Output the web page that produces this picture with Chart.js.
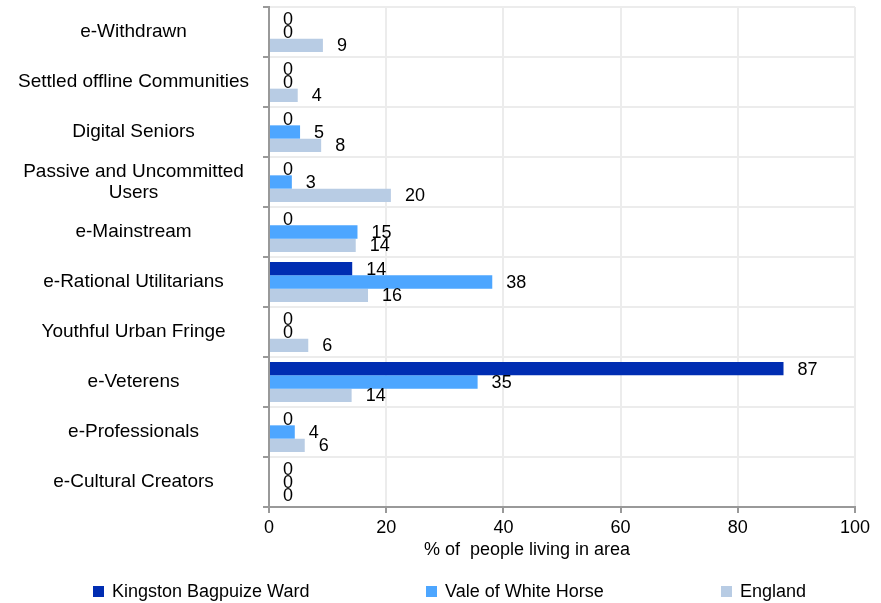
<!DOCTYPE html>
<html>
<head>
<meta charset="utf-8">
<script src="https://cdn.jsdelivr.net/npm/chart.js@4.4.1/dist/chart.umd.min.js"></script>
<style>
    html, body { margin: 0; padding: 0; background: #fff; }
    #wrap { width: 881px; height: 603px; }
</style>
</head>
<body>
<div id="wrap"><canvas id="segChart" width="881" height="603"></canvas></div>
<script>
const segments = ["e-Withdrawn", "Settled offline Communities", "Digital Seniors", ["Passive and Uncommitted", "Users"], "e-Mainstream", "e-Rational Utilitarians", "Youthful Urban Fringe", "e-Veterens", "e-Professionals", "e-Cultural Creators"];
const seriesNames = ["Kingston Bagpuize Ward", "Vale of White Horse", "England"];
const kingstonData = [0, 0, 0, 0, 0, 14.2, 0, 87.8, 0, 0];
const valeData = [0, 0, 5.3, 3.9, 15.1, 38.1, 0, 35.6, 4.4, 0];
const englandData = [9.2, 4.9, 8.9, 20.8, 14.8, 16.9, 6.7, 14.1, 6.1, 0];
const xTicks = [0, 20, 40, 60, 80, 100];
const axisTitle = "% of  people living in area";

const colors = ['rgb(0,45,178)', 'rgb(77,166,255)', 'rgb(184,204,228)'];
const fontFamily = "'Liberation Sans', Arial, sans-serif";

Chart.defaults.font.family = fontFamily;
Chart.defaults.color = '#000';

// labels at bar ends (values shown truncated, like the original)
const valueLabels = {
    id: 'valueLabels',
    afterDatasetsDraw(chart) {
        const ctx = chart.ctx;
        ctx.save();
        ctx.font = `18px ${fontFamily}`;
        ctx.fillStyle = '#000';
        ctx.textAlign = 'left';
        ctx.textBaseline = 'middle';
        chart.data.datasets.forEach((ds, i) => {
            chart.getDatasetMeta(i).data.forEach((bar, j) => {
                ctx.fillText(String(Math.floor(ds.data[j])), bar.x + 14, bar.y + 1);
            });
        });
        ctx.restore();
    }
};

// axis title + legend row at the bottom
const bottomText = {
    id: 'bottomText',
    afterDraw(chart) {
        const ctx = chart.ctx;
        ctx.save();
        ctx.font = `18px ${fontFamily}`;
        ctx.fillStyle = '#000';
        ctx.textBaseline = 'middle';
        ctx.textAlign = 'center';
        ctx.fillText(axisTitle, 527, 550);

        const boxX = [93, 426, 721];
        ctx.textAlign = 'left';
        chart.data.datasets.forEach((ds, i) => {
            ctx.fillStyle = ds.backgroundColor;
            ctx.fillRect(boxX[i], 586, 11, 11);
            ctx.fillStyle = '#000';
            ctx.fillText(ds.label, boxX[i] + 19, 592);
        });
        ctx.restore();
    }
};

const segChart = new Chart(document.getElementById('segChart').getContext('2d'), {
    type: 'bar',
    data: {
        labels: segments,
        datasets: [
            { label: seriesNames[0], data: kingstonData, backgroundColor: colors[0] },
            { label: seriesNames[1], data: valeData, backgroundColor: colors[1] },
            { label: seriesNames[2], data: englandData, backgroundColor: colors[2] },
        ]
    },
    options: {
        indexAxis: 'y',
        responsive: false,
        devicePixelRatio: 1,
        animation: false,
        barPercentage: 1,
        categoryPercentage: 0.8,
        borderWidth: 0,
        layout: {
            padding: { top: 7, right: 26, bottom: 60, left: 0 }
        },
        scales: {
            x: {
                min: 0,
                max: 100,
                afterBuildTicks: (scale) => { scale.ticks = xTicks.map(v => ({ value: v })); },
                afterFit: (scale) => { scale.height = 36; },
                grid: { color: '#ececec', lineWidth: 2, tickColor: '#999', tickLength: 6 },
                border: { color: '#999', width: 2 },
                ticks: { font: { size: 18 }, padding: 4, color: '#000' }
            },
            y: {
                afterFit: (scale) => {
                    scale.width = 269;
                    scale.paddingTop = 0;
                    scale.paddingBottom = 0;
                },
                grid: { color: '#ececec', lineWidth: 2, tickColor: '#999', tickLength: 6, offset: true },
                border: { color: '#999', width: 2 },
                ticks: {
                    crossAlign: 'center',
                    padding: 14,
                    autoSkip: false,
                    color: '#000',
                    font: { size: 19, lineHeight: 1.1 }
                }
            }
        },
        plugins: {
            legend: { display: false },
            tooltip: { enabled: false }
        }
    },
    plugins: [valueLabels, bottomText]
});
</script>
</body>
</html>
